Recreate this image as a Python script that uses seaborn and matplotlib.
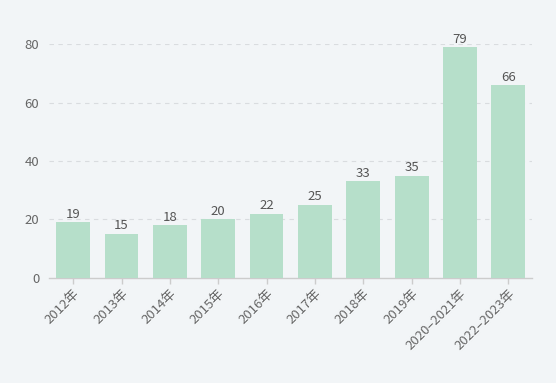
import matplotlib
matplotlib.use("Agg")
import matplotlib.pyplot as plt
import pandas as pd
import seaborn as sns

years = ["2012年", "2013年", "2014年", "2015年", "2016年", "2017年",
         "2018年", "2019年", "2020–2021年", "2022–2023年"]
counts = [19, 15, 18, 20, 22, 25, 33, 35, 79, 66]
y_ticks = [0, 20, 40, 60, 80]

BG = "#f2f5f7"
BAR = "#b6dfca"
TXT = "#666666"

sns.set_theme(style="white")
plt.rcParams["font.family"] = ["Noto Sans CJK SC", "DejaVu Sans"]

df = pd.DataFrame({"year": years, "count": counts})

fig = plt.figure(figsize=(5.56, 3.83), dpi=100, facecolor=BG)
ax = fig.add_axes([0.0881, 0.2749, 0.8696, 0.6094])
ax.set_facecolor(BG)

sns.barplot(data=df, x="year", y="count", color=BAR, width=0.7,
            saturation=1, linewidth=0, ax=ax, zorder=3)

# value labels above each bar
for i, v in enumerate(counts):
    ax.text(i, v + 0.5, str(v), ha="center", va="bottom", fontsize=9.5,
            color="#555555", clip_on=False)

ax.set_ylim(0, 80)
ax.set_xlim(-0.5, len(years) - 0.5)
ax.set_yticks(y_ticks)
for t in y_ticks[1:]:
    ax.axhline(t, color="#d9dcdf", lw=0.8, ls=(0, (4, 4)), zorder=1)

ax.set_xlabel("")
ax.set_ylabel("")
for s in ["top", "right", "left"]:
    ax.spines[s].set_visible(False)
ax.spines["bottom"].set_color("#cccccc")
ax.spines["bottom"].set_linewidth(1)

ax.tick_params(axis="y", length=0, pad=7, labelsize=9.5, labelcolor=TXT)
ax.tick_params(axis="x", length=4, width=1, color="#cccccc", pad=3,
               labelsize=9.5, labelcolor=TXT, bottom=True)
plt.setp(ax.get_xticklabels(), rotation=45, ha="right", rotation_mode="anchor")

fig.savefig("out.png", dpi=100, facecolor=BG)
